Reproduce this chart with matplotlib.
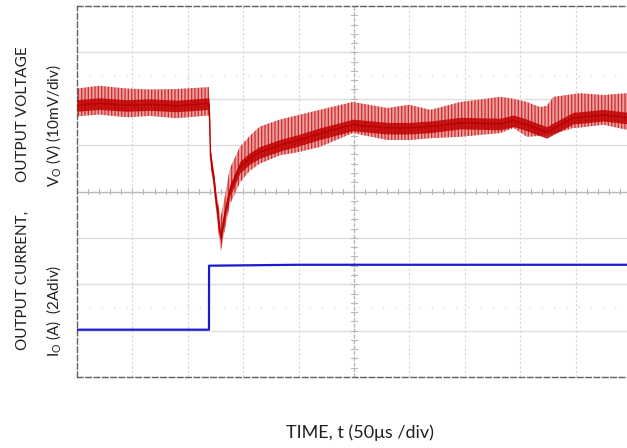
import numpy as np
import matplotlib
matplotlib.use("Agg")
import matplotlib.pyplot as plt

# tiempo en microsegundos (50 us/div), amplitudes en divisiones de pantalla
t_v = [0, 20, 45, 66, 90, 119, 119.5, 120.5, 123.5, 126.5, 129.7, 133.6, 138, 147,
       156, 165, 183, 200, 219, 249, 280, 300, 319, 346, 382, 394, 406, 418, 424,
       430, 448, 454, 475, 496.4]
v_mid = [5.86, 5.90, 5.86, 5.88, 5.85, 5.90, 5.70, 4.75, 4.25, 3.60, 3.00, 3.54, 4.03,
         4.53, 4.72, 4.85, 5.00, 5.11, 5.25, 5.44, 5.37, 5.37, 5.40, 5.48, 5.46, 5.53,
         5.44, 5.33, 5.28, 5.36, 5.59, 5.60, 5.65, 5.59]
v_hi = [6.22, 6.28, 6.22, 6.20, 6.21, 6.25, 6.00, 4.92, 4.45, 3.85, 3.45, 3.92, 4.50,
        4.96, 5.20, 5.40, 5.55, 5.65, 5.76, 5.93, 5.80, 5.87, 5.76, 5.93, 6.04, 6.00,
        5.93, 5.82, 5.85, 6.04, 6.10, 6.12, 6.08, 6.12]
v_lo = [5.62, 5.66, 5.60, 5.63, 5.58, 5.64, 5.50, 4.58, 4.05, 3.38, 2.70, 3.20, 3.72,
        4.19, 4.45, 4.60, 4.78, 4.85, 4.96, 5.26, 5.11, 5.11, 5.15, 5.18, 5.26, 5.37,
        5.18, 5.20, 5.22, 5.24, 5.37, 5.38, 5.44, 5.33]

t_i = [0, 119.1, 119.2, 200, 300, 400, 496.4]
i_val = [1.02, 1.02, 2.40, 2.42, 2.42, 2.42, 2.42]

plt.rcParams["hatch.linewidth"] = 0.9

fig = plt.figure(figsize=(6.27, 4.48), dpi=100)
ax = fig.add_axes([77 / 627, 71 / 448, 550 / 627, 371 / 448])

xmax = 496.4
ax.set_xlim(0, xmax)
ax.set_ylim(0, 8)

# reticula del osciloscopio
for x in np.arange(50, xmax, 50):
    if x == 250:
        continue
    ax.axvline(x, color="#d4d4d4", linewidth=0.8, linestyle=(0, (2, 2)), zorder=0)
for y in range(1, 8):
    if y == 4:
        continue
    ax.axhline(y, color="#dedede", linewidth=1.0, zorder=0)
for y in (1.5, 6.5):
    ax.axhline(y, color="#cccccc", linewidth=0.8, linestyle=(0, (1, 10)), zorder=0)
ax.axhline(4, color="#b8b8b8", linewidth=1.0, zorder=0)
ax.axvline(250, color="#b8b8b8", linewidth=1.0, linestyle=(0, (3, 1)), zorder=0)
for x in np.arange(10, xmax, 10):
    ax.plot([x, x], [3.94, 4.06], color="#b8b8b8", linewidth=0.8, zorder=0)
for y in np.arange(0.2, 8, 0.2):
    ax.plot([247.5, 252.5], [y, y], color="#b8b8b8", linewidth=0.8, zorder=0)

# tension de salida
ax.fill_between(t_v, v_lo, v_hi, facecolor="#eca0a0", edgecolor="#cf2a2a",
                hatch="|||||", linewidth=0, zorder=2)
core_hi = [m + 0.12 for m in v_mid]
core_lo = [m - 0.13 for m in v_mid]
ax.fill_between(t_v, core_lo, core_hi, color="#c00000", alpha=0.85, linewidth=0, zorder=3)
ax.plot(t_v, v_mid, color="#bb0000", linewidth=1.0, zorder=3)

# corriente de salida
ax.plot(t_i, i_val, color="#1a1ad0", linewidth=1.6, zorder=4)

ax.set_xticks([])
ax.set_yticks([])
for side in ("top", "left", "bottom"):
    ax.spines[side].set_linestyle((0, (4, 2)))
    ax.spines[side].set_color("#606060")
    ax.spines[side].set_linewidth(1.0)
ax.spines["right"].set_visible(False)

fuente = "Lato"
fig.text(0.036, 0.745, "OUTPUT VOLTAGE", rotation=90, ha="center", va="center",
         fontsize=11, family=fuente, color="#202020")
fig.text(0.036, 0.373, "OUTPUT CURRENT,", rotation=90, ha="center", va="center",
         fontsize=11, family=fuente, color="#202020")
fig.text(0.086, 0.72, r"V$_\mathregular{O}$ (V) (10mV/div)", rotation=90, ha="center",
         va="center", fontsize=11, family=fuente, color="#202020")
fig.text(0.086, 0.306, r"I$_\mathregular{O}$ (A)  (2Adiv)", rotation=90, ha="center",
         va="center", fontsize=11, family=fuente, color="#202020")
fig.text(0.574, 0.033, "TIME, t (50μs /div)", ha="center", va="center",
         fontsize=13, family=fuente, color="#202020")

fig.savefig("out.png", dpi=100)
plt.close(fig)
